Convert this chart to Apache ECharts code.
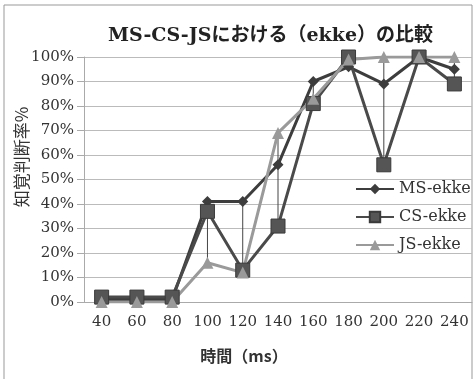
<!DOCTYPE html>
<html><head><meta charset="utf-8">
<script src="https://cdn.jsdelivr.net/npm/echarts@6/dist/echarts.min.js"></script>
<style>html,body{margin:0;padding:0;background:#fff}#c{width:475px;height:379px}</style>
</head><body><div id="c"></div>
<script>
const categories = ['40','60','80','100','120','140','160','180','200','220','240'];
const msEkke = [1, 1, 1, 41, 41, 56, 90, 96, 89, 100, 95];
const csEkke = [2, 2, 2, 37, 13, 31, 81, 100, 56, 100, 89];
const jsEkke = [0, 0, 0, 16, 12, 69, 83, 99, 100, 100, 100];
const yTicks = [0,10,20,30,40,50,60,70,80,90,100];

const hiLo = categories.map((c, i) => {
  const v = [msEkke[i], csEkke[i], jsEkke[i]];
  return [i, Math.min(...v), Math.max(...v)];
});
const serif = '"DejaVu Serif", "Noto Sans CJK JP", serif';
const chart = echarts.init(document.getElementById('c'));
chart.setOption({
  animation: false,
  backgroundColor: '#fff',
  textStyle: { fontFamily: serif },
  title: {
    text: 'MS-CS-JSにおける（ekke）の比較',
    left: 103, top: 22,
    textStyle: { fontFamily: serif, fontSize: 19, fontWeight: 'bold', color: '#222' }
  },
  graphic: [
    { type: 'rect', shape: { x: 4, y: 5, width: 468, height: 390 }, style: { fill: 'none', stroke: '#999', lineWidth: 1 }, silent: true, z: -1 },
    { type: 'text', x: 22, y: 157, rotation: Math.PI / 2,
      style: { text: '知覚判断率%', fontFamily: '"Noto Sans CJK JP", sans-serif', fontSize: 17, fill: '#333', align: 'center', verticalAlign: 'middle' } },
    { type: 'text', x: 244, y: 356,
      style: { text: '時間（ms）', fontFamily: '"Noto Sans CJK JP", sans-serif', fontSize: 16, fontWeight: 'bold', fill: '#333', align: 'center', verticalAlign: 'middle' } }
  ],
  grid: { left: 84, right: 3, top: 57, bottom: 77 },
  legend: {
    orient: 'vertical', left: 350, top: 176, itemGap: 12,
    itemWidth: 38, itemHeight: 13,
    formatter: name => '{s|' + name + '}',
    textStyle: { fontFamily: serif, fontSize: 16, color: '#333',
      rich: { s: { fontFamily: serif, fontSize: 16, color: '#333' } } },
    data: ['MS-ekke', 'CS-ekke', 'JS-ekke']
  },
  xAxis: {
    type: 'category', data: categories, boundaryGap: true,
    axisLine: { lineStyle: { color: '#aaa', width: 1 } },
    axisTick: { show: false },
    axisLabel: { fontFamily: serif, fontSize: 15, color: '#333', margin: 13, interval: 0 }
  },
  yAxis: {
    type: 'value', min: 0, max: 100, interval: 10,
    axisLine: { show: true, lineStyle: { color: '#aaa' } },
    axisTick: { show: true, length: 7, lineStyle: { color: '#aaa' } },
    splitLine: { lineStyle: { color: '#bbb', width: 1 } },
    axisLabel: { fontFamily: serif, fontSize: 15, color: '#333', margin: 10, formatter: v => v + '%' }
  },
  series: [
    { type: 'custom', name: 'hilo', data: hiLo, encode: { x: 0, y: [1, 2] }, z: 1,
      renderItem: (params, api) => {
        const lo = api.coord([api.value(0), api.value(1)]);
        const hi = api.coord([api.value(0), api.value(2)]);
        return { type: 'line', shape: { x1: lo[0], y1: lo[1], x2: hi[0], y2: hi[1] }, style: { stroke: '#444', lineWidth: 1 } };
      } },
    { name: 'MS-ekke', type: 'line', data: msEkke, symbol: 'diamond', symbolSize: 11,
      lineStyle: { color: '#3d3d3d', width: 3 }, itemStyle: { color: '#3d3d3d' }, z: 3 },
    { name: 'CS-ekke', type: 'line', data: csEkke, symbol: 'rect', symbolSize: 14,
      lineStyle: { color: '#4a4a4a', width: 3 }, itemStyle: { color: '#555', borderColor: '#3a3a3a', borderWidth: 1 }, z: 3 },
    { name: 'JS-ekke', type: 'line', data: jsEkke, symbol: 'triangle', symbolSize: 12,
      lineStyle: { color: '#9a9a9a', width: 3 }, itemStyle: { color: '#9a9a9a' }, z: 3 }
  ]
});
</script></body></html>
